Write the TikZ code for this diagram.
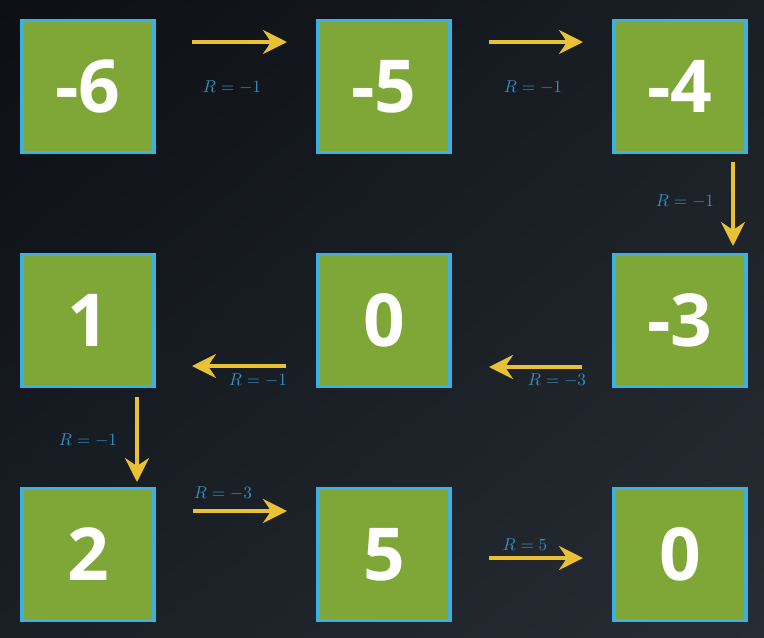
\documentclass[tikz,border=0pt]{standalone}
\usepackage{graphicx}
\usepackage{fontspec}
\newfontfamily\numfont{Open Sans}
\usetikzlibrary{arrows.meta,shadings}
\definecolor{boxfill}{HTML}{7EA737}
\definecolor{boxline}{HTML}{3CB0E2}
\definecolor{arrowcol}{HTML}{E8C234}
\definecolor{labcol}{HTML}{338FBD}
\definecolor{bgA}{HTML}{0C0F14}
\definecolor{bgB}{HTML}{1A1F26}
\definecolor{bgC}{HTML}{272D34}
\newcommand{\rlab}[1]{\scalebox{1.72}{$R=#1$}}
\tikzset{
  cell/.style={draw=boxline, fill=boxfill, line width=3.5pt, minimum width=132pt, minimum height=132pt, inner sep=0pt,
    text=white, font=\numfont\bfseries\fontsize{73}{73}\selectfont},
  move/.style={draw=arrowcol, line width=3.5pt, -{Stealth[length=24pt,width=24pt,inset=8pt]}},
  rew/.style={text=labcol, font=\normalsize, inner sep=0pt}
}
\begin{document}
\begin{tikzpicture}[x=1pt,y=-1pt]
\shade[upper left=bgA, upper right=bgB, lower left=bgB, lower right=bgC] (0,0) rectangle (764,638);
\useasboundingbox (0,0) rectangle (764,638);
% cells
\node[cell] (a) at (88,86.5) {-6};
\node[cell] (b) at (384,86.5) {-5};
\node[cell] (c) at (680,86.5) {-4};
\node[cell] (d) at (88,320.5) {1};
\node[cell] (e) at (384,320.5) {0};
\node[cell] (f) at (680,320.5) {-3};
\node[cell] (g) at (88,554.5) {2};
\node[cell] (h) at (384,554.5) {5};
\node[cell] (i) at (680,554.5) {0};
% arrow endpoints
\coordinate (ab1) at (192,42); \coordinate (ab2) at (287,42);
\coordinate (bc1) at (489,42); \coordinate (bc2) at (583,42);
\coordinate (cf1) at (733,162); \coordinate (cf2) at (733,246);
\coordinate (fe1) at (582,367); \coordinate (fe2) at (489,367);
\coordinate (ed1) at (286,366); \coordinate (ed2) at (192,366);
\coordinate (dg1) at (137,397); \coordinate (dg2) at (137,482);
\coordinate (gh1) at (193,511); \coordinate (gh2) at (287,511);
\coordinate (hi1) at (489,558); \coordinate (hi2) at (583,558);
\draw[move] (ab1) -- (ab2);
\draw[move] (bc1) -- (bc2);
\draw[move] (cf1) -- (cf2);
\draw[move] (fe1) -- (fe2);
\draw[move] (ed1) -- (ed2);
\draw[move] (dg1) -- (dg2);
\draw[move] (gh1) -- (gh2);
\draw[move] (hi1) -- (hi2);
% reward labels
\node[rew] (l1) at (232,87) {\rlab{-1}};
\node[rew] (l2) at (533,87) {\rlab{-1}};
\node[rew] (l3) at (685,201) {\rlab{-1}};
\node[rew] (l4) at (557,380) {\rlab{-3}};
\node[rew] (l5) at (258,380) {\rlab{-1}};
\node[rew] (l6) at (88,440) {\rlab{-1}};
\node[rew] (l7) at (223,493) {\rlab{-3}};
\node[rew] (l8) at (525,545) {\rlab{5}};
\end{tikzpicture}
\end{document}
